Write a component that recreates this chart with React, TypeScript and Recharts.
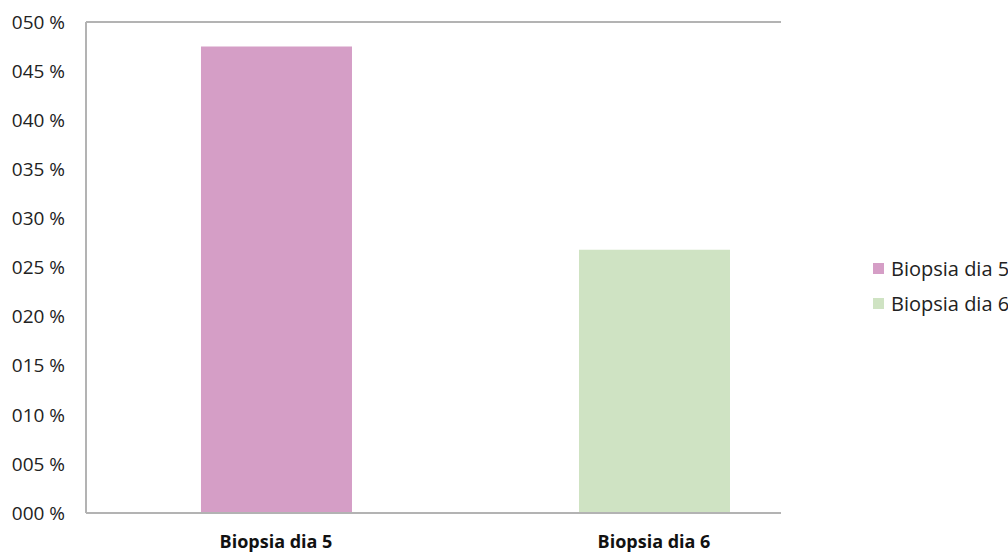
import React from 'react';
import { BarChart, Bar, XAxis, YAxis, CartesianGrid } from 'recharts';

const categories = ['Biopsia dia 5', 'Biopsia dia 6'];
const seriesNames = ['Biopsia dia 5', 'Biopsia dia 6'];
const seriesColors = ['#d59ec6', '#cfe3c3'];
const dia5Values = [0.475, null];
const dia6Values = [null, 0.268];
const yTicks = [0, 0.05, 0.1, 0.15, 0.2, 0.25, 0.3, 0.35, 0.4, 0.45, 0.5];

const data = categories.map((name, i) => ({
    idx: i,
    name,
    d5: dia5Values[i],
    d6: dia6Values[i],
}));

const gridColor = '#b3b3b3';

const formatPct = (v: number) => String(Math.round(v * 100)).padStart(3, '0') + ' %';

const App: React.FC = () => {
    return (
        <div style={{ position: 'absolute', left: 0, top: 0, width: 1008, height: 553, overflow: 'hidden', fontFamily: '"Open Sans", sans-serif', background: '#fff' }}>
            <BarChart width={1008} height={553} data={data} margin={{ top: 22, right: 227, bottom: 0, left: 0 }}>
                <CartesianGrid vertical={false} stroke={gridColor} strokeWidth={2} />
                <XAxis
                    type="number"
                    dataKey="idx"
                    domain={[-0.5026, 1.336]}
                    ticks={[0, 1]}
                    tickFormatter={(v: number) => categories[v]}
                    tickLine={false}
                    tickSize={0}
                    tickMargin={22}
                    height={40}
                    axisLine={{ stroke: gridColor, strokeWidth: 2 }}
                    tick={{ fontSize: 18, fontWeight: 700, fill: '#111' }}
                />
                <YAxis
                    yAxisId="left"
                    domain={[0, 0.5]}
                    ticks={yTicks}
                    tickFormatter={formatPct}
                    width={86}
                    tickLine={false}
                    tickSize={0}
                    tickMargin={21}
                    axisLine={{ stroke: gridColor, strokeWidth: 2 }}
                    tick={{ fontSize: 19, fill: '#222' }}
                />
                <YAxis
                    yAxisId="right"
                    orientation="right"
                    domain={[0, 0.5]}
                    width={0}
                    tick={false}
                    tickLine={false}
                    axisLine={{ stroke: gridColor, strokeWidth: 2 }}
                />
                <Bar yAxisId="left" dataKey="d5" name={seriesNames[0]} stackId="s" fill={seriesColors[0]} barSize={151} isAnimationActive={false} />
                <Bar yAxisId="left" dataKey="d6" name={seriesNames[1]} stackId="s" fill={seriesColors[1]} barSize={151} isAnimationActive={false} />
            </BarChart>
            <div style={{ position: 'absolute', left: 873, top: 251 }}>
                {seriesNames.map((n, i) => (
                    <div key={n} style={{ display: 'flex', alignItems: 'center', height: 35, whiteSpace: 'nowrap', fontSize: 20, color: '#222' }}>
                        <span style={{ display: 'inline-block', width: 11, height: 11, background: seriesColors[i], marginRight: 7 }} />
                        {n}
                    </div>
                ))}
            </div>
        </div>
    );
};

export default App;
